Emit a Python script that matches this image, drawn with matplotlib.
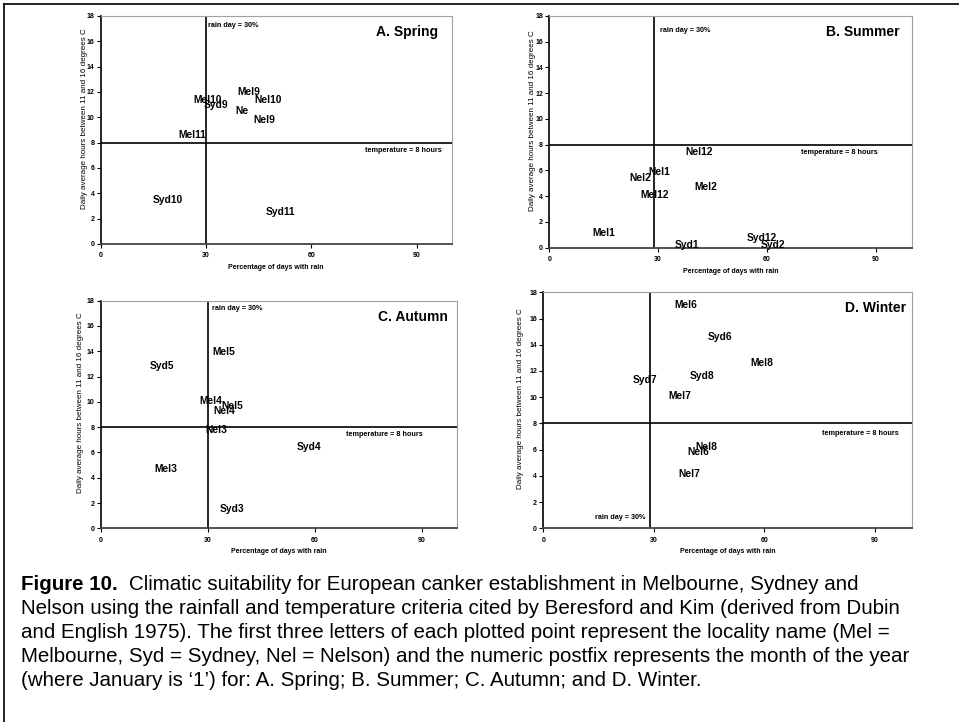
import matplotlib
matplotlib.use("Agg")
import matplotlib.pyplot as plt
from matplotlib.lines import Line2D

plt.rcParams['font.family'] = ['Liberation Sans', 'DejaVu Sans']

# ---- data (x = % days with rain, y = daily hours between 11 and 16 C) ----
spring_lab = ["Mel10", "Syd9", "Mel9", "Nel10", "Ne", "Nel9", "Mel11", "Syd10", "Syd11"]
spring_x = [30.5, 32.8, 42.2, 47.6, 40.2, 46.7, 26.1, 19.1, 51.2]
spring_y = [11.39, 11.0, 11.97, 11.39, 10.5, 9.81, 8.6, 3.45, 2.55]

summer_lab = ["Nel12", "Nel1", "Nel2", "Mel2", "Mel12", "Mel1", "Syd1", "Syd12", "Syd2"]
summer_x = [41.3, 30.2, 25.2, 43.2, 29.0, 15.1, 38.0, 58.6, 61.8]
summer_y = [7.41, 5.86, 5.44, 4.74, 4.1, 1.17, 0.21, 0.73, 0.21]

autumn_lab = ["Mel5", "Syd5", "Mel4", "Nel5", "Nel4", "Nel3", "Syd4", "Mel3", "Syd3"]
autumn_x = [34.4, 17.1, 30.9, 36.8, 34.7, 32.5, 58.4, 18.2, 36.9]
autumn_y = [13.97, 12.84, 10.1, 9.7, 9.28, 7.78, 6.4, 4.67, 1.53]

winter_lab = ["Mel6", "Syd6", "Mel8", "Syd8", "Syd7", "Mel7", "Nel8", "Nel6", "Nel7"]
winter_x = [38.6, 47.9, 59.4, 43.1, 27.6, 37.1, 44.1, 42.1, 39.6]
winter_y = [17.06, 14.57, 12.58, 11.64, 11.31, 10.07, 6.23, 5.82, 4.12]

titles = ["A. Spring", "B. Summer", "C. Autumn", "D. Winter"]
rain_line = [30, 29, 30, 29]
temp_line = 8
xticks = [0, 30, 60, 90]
yticks = list(range(0, 19, 2))

W, H = 959, 722
fig = plt.figure(figsize=(W / 100, H / 100), dpi=100)

# axes boxes in pixels: left, right, top, bottom
boxes = [
    (100.7, 451.7, 16, 244),
    (549.3, 912, 16, 247.7),
    (100.7, 457.4, 300.7, 528.3),
    (543.3, 911.9, 292.3, 528.3),
]
ylab_cx = [84, 533, 81, 521]   # ylabel centre x (px)

axes = []
for x0, x1, yt, yb in boxes:
    axes.append(fig.add_axes([x0 / W, 1 - yb / H, (x1 - x0) / W, (yb - yt) / H]))

panels = [
    (spring_lab, spring_x, spring_y),
    (summer_lab, summer_x, summer_y),
    (autumn_lab, autumn_x, autumn_y),
    (winter_lab, winter_x, winter_y),
]

# annotation positions per panel: rain text, temp text, title
rain_txt = [(30.7, 17.23, 'left'), (30.5, 16.9, 'left'), (31.1, 17.35, 'left'), (27.6, 0.8, 'right')]
temp_txt = [(97.3, 7.37), (90.5, 7.41), (90.4, 7.43), (96.3, 7.25)]
title_txt = [(96.2, 16.7), (96.7, 16.78), (97.2, 16.74), (98.4, 16.8)]

for i, (ax, (lab, xs, ys)) in enumerate(zip(axes, panels)):
    ax.set_xlim(0, 100)
    ax.set_ylim(0, 18)
    ax.set_xticks(xticks)
    ax.set_yticks(yticks)
    ax.tick_params(direction='out', length=3, width=0.8, labelsize=5)
    ax.tick_params(axis='y', pad=1.5)
    ax.tick_params(axis='x', pad=3)
    for t in ax.get_xticklabels() + ax.get_yticklabels():
        t.set_fontweight('bold')
    ax.spines['left'].set_color('black')
    ax.spines['left'].set_linewidth(1.2)
    ax.spines['bottom'].set_color('#444444')
    ax.spines['bottom'].set_linewidth(1.3)
    for s in ['top', 'right']:
        ax.spines[s].set_color('#a0a0a0')
        ax.spines[s].set_linewidth(0.8)

    ax.axvline(rain_line[i], color='black', lw=1.2)
    ax.axhline(temp_line, color='black', lw=1.2)

    for l, x, y in zip(lab, xs, ys):
        ax.text(x, y, l, ha='center', va='center', fontsize=7.4, fontweight='bold')

    rx, ry, rha = rain_txt[i]
    ax.text(rx, ry, "rain day = 30%", ha=rha, va='center', fontsize=5.2, fontweight='bold')
    tx, ty = temp_txt[i]
    ax.text(tx, ty, "temperature = 8 hours", ha='right', va='center', fontsize=5.2, fontweight='bold')
    hx, hy = title_txt[i]
    ax.text(hx, hy, titles[i], ha='right', va='center', fontsize=10, fontweight='bold')

    ax.set_xlabel("Percentage of days with rain", fontsize=5, fontweight='bold', labelpad=3.5)
    ax.set_ylabel("Daily average hours between 11 and 16 degrees C", fontsize=5.8, va='center')
    x0, x1, yt, yb = boxes[i]
    ax.yaxis.set_label_coords((ylab_cx[i] - x0) / (x1 - x0), 0.55)

# caption
cap_x = 21 / W
cap_lines = [
    "Climatic suitability for European canker establishment in Melbourne, Sydney and",
    "Nelson using the rainfall and temperature criteria cited by Beresford and Kim (derived from Dubin",
    "and English 1975). The first three letters of each plotted point represent the locality name (Mel =",
    "Melbourne, Syd = Sydney, Nel = Nelson) and the numeric postfix represents the month of the year",
    "(where January is \u20181\u2019) for: A. Spring; B. Summer; C. Autumn; and D. Winter.",
]
cap_y = [590, 614, 638, 662, 686]
cap_fs = 14.8

bold = fig.text(cap_x, 1 - cap_y[0] / H, "Figure 10.", fontsize=cap_fs, fontweight='bold',
                ha='left', va='baseline')
renderer = fig.canvas.get_renderer()
bb = bold.get_window_extent(renderer)
fig.text((bb.x1 + 11) / W, 1 - cap_y[0] / H, cap_lines[0], fontsize=cap_fs, ha='left', va='baseline')
for line, y in zip(cap_lines[1:], cap_y[1:]):
    fig.text(cap_x, 1 - y / H, line, fontsize=cap_fs, ha='left', va='baseline')

# outer frame (top and left edges visible)
fig.add_artist(Line2D([4 / W, 4 / W], [0, 1 - 4 / H], color='black', lw=1.2, transform=fig.transFigure))
fig.add_artist(Line2D([4 / W, 1], [1 - 4 / H, 1 - 4 / H], color='black', lw=1.2, transform=fig.transFigure))

fig.savefig("out.png", dpi=100)
